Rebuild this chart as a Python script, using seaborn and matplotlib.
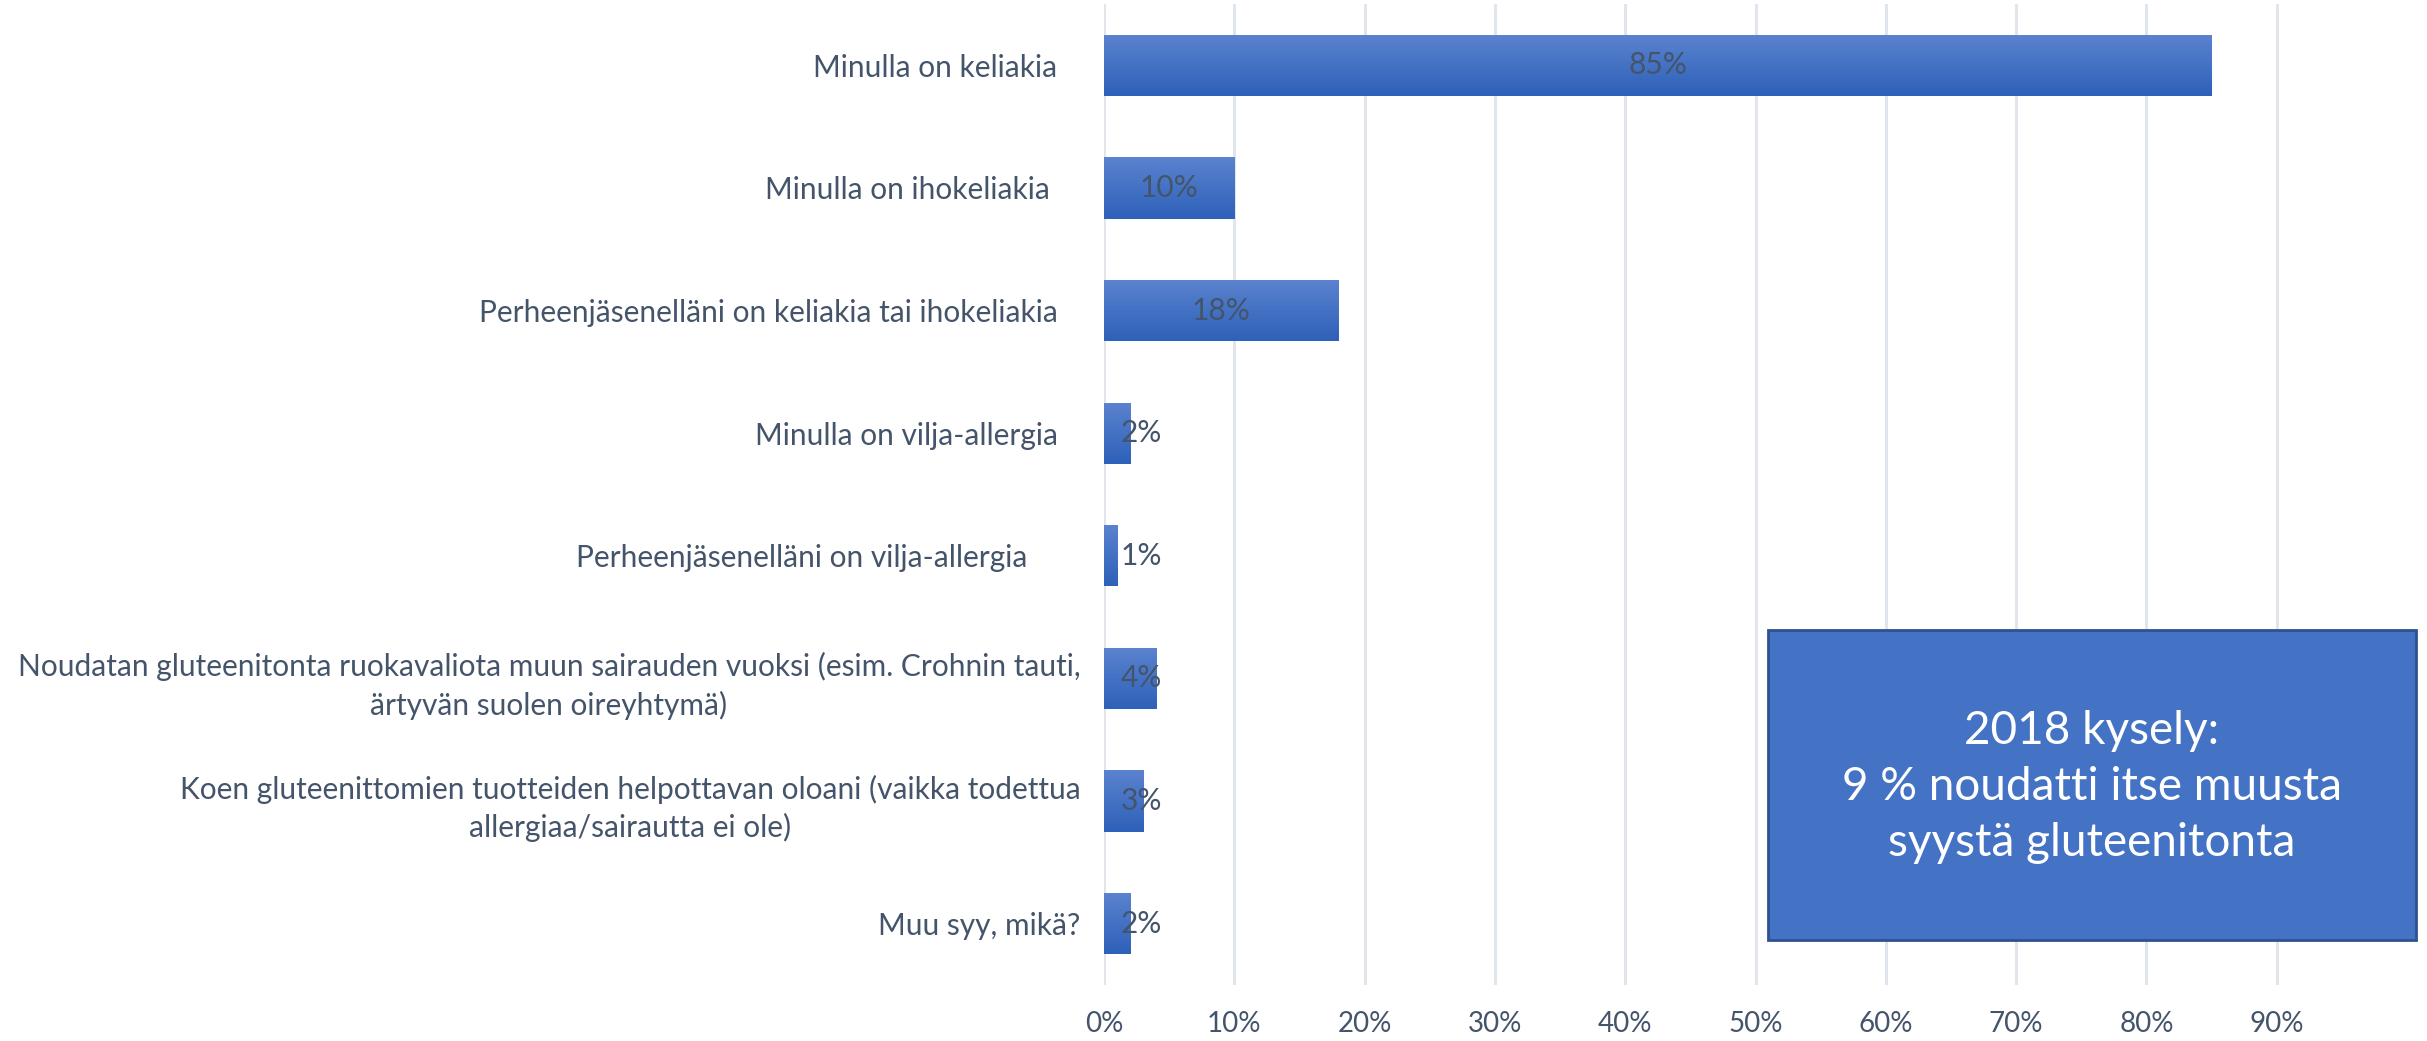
import matplotlib
matplotlib.use('Agg')
import matplotlib.pyplot as plt
import seaborn as sns
import numpy as np
import pandas as pd
from matplotlib.patches import Rectangle
from matplotlib.colors import LinearSegmentedColormap

# survey reasons (trailing spaces keep the original label alignment)
reasons = [
    "Minulla on keliakia   ",
    "Minulla on ihokeliakia    ",
    "Perheenjäsenelläni on keliakia tai ihokeliakia   ",
    "Minulla on vilja-allergia   ",
    "Perheenjäsenelläni on vilja-allergia       ",
    "Noudatan gluteenitonta ruokavaliota muun sairauden vuoksi (esim. Crohnin tauti,\närtyvän suolen oireyhtymä)",
    "Koen gluteenittomien tuotteiden helpottavan oloani (vaikka todettua\nallergiaa/sairautta ei ole)",
    "Muu syy, mikä?",
]
shares = [0.85, 0.10, 0.18, 0.02, 0.01, 0.04, 0.03, 0.02]
xticks = [0.0, 0.1, 0.2, 0.3, 0.4, 0.5, 0.6, 0.7, 0.8, 0.9]
note = "2018 kysely:\n9 % noudatti itse muusta\nsyystä gluteenitonta"

df = pd.DataFrame({'reason': reasons, 'share': shares})

sns.set_style('white')
plt.rcParams['font.family'] = ['Lato', 'DejaVu Sans']
text_col = '#44546A'

fig = plt.figure(figsize=(24.27, 10.41), dpi=100)
ax = fig.add_axes([1104/2427, 1 - 985/1041, (2407 - 1104)/2427, (985 - 4)/1041])

sns.barplot(data=df, x='share', y='reason', orient='h', color='#4472C4',
            width=0.5, ax=ax, zorder=2)

# vertical gradient inside each bar
grad = LinearSegmentedColormap.from_list('g', ['#5B83CF', '#4472C4', '#2E61B9'])
gimg = np.linspace(0, 1, 64).reshape(-1, 1)
for p in ax.patches:
    x0, y0 = p.get_x(), p.get_y()
    w, h = p.get_width(), p.get_height()
    im = ax.imshow(gimg, cmap=grad, aspect='auto', extent=(x0, x0 + w, y0 + h, y0),
                   origin='upper', zorder=3)
    im.set_clip_path(p)
    p.set_edgecolor('none')

ax.set_xlim(0, 1.0)
ax.set_ylim(len(reasons) - 0.5, -0.5)
ax.set_xticks(xticks)
ax.set_xticklabels([f"{int(round(t*100))}%" for t in xticks])
ax.grid(axis='x', color='#E1E5EC', linewidth=2.2, zorder=0)
ax.set_axisbelow(True)
for s in ax.spines.values():
    s.set_visible(False)
ax.set_xlabel('')
ax.set_ylabel('')
ax.tick_params(axis='x', length=0, pad=19, labelsize=20, labelcolor=text_col)
ax.tick_params(axis='y', length=0, pad=17, labelsize=21.5, labelcolor=text_col)
for lab in ax.get_yticklabels():
    lab.set_multialignment('center')
    lab.set_linespacing(1.4)

for i, v in enumerate(shares):
    ax.text(max(v / 2, 0.0285), i, f"{int(round(v*100))}%", ha='center', va='center',
            fontsize=21.5, color=text_col, zorder=5)

# annotation box
fig.patches.append(Rectangle((1768/2427, 1 - 940/1041), (2416 - 1768)/2427, (940 - 630)/1041,
                             transform=fig.transFigure, facecolor='#4472C4',
                             edgecolor='#2F528F', linewidth=2, zorder=10))
fig.text(2092/2427, 1 - 787/1041, note, ha='center', va='center', color='white',
         fontsize=33, linespacing=1.4, zorder=11)

fig.savefig('out.png', dpi=100)
